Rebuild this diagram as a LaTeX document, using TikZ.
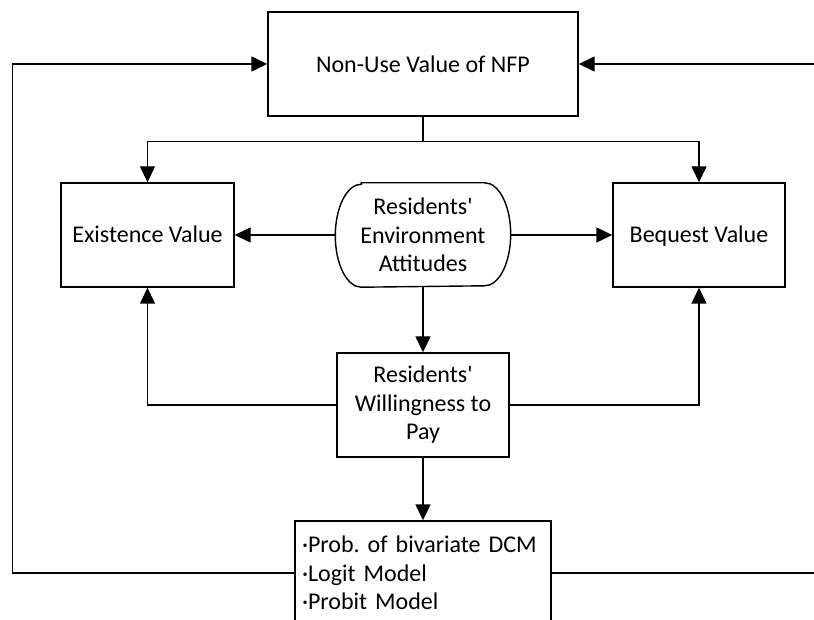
\documentclass[tikz,border=0pt]{standalone}
\usepackage{fontspec}
\setmainfont{Carlito}
\usetikzlibrary{arrows.meta}
\begin{document}
\begin{tikzpicture}[x=1pt,y=-1pt,
  box/.style={draw,line width=1.4pt,inner sep=0pt,align=center,font=\fontsize{24}{28.5}\selectfont\frenchspacing},
  conn/.style={line width=1.4pt},
  arr/.style={conn,-{Triangle[length=16pt,width=15pt]}}]
\useasboundingbox (0,0) rectangle (814,620);
\clip (0,0) rectangle (814,620);
\node[box,minimum width=310pt,minimum height=104pt] (top) at (423,64) {Non-Use Value of NFP};
\node[box,minimum width=173pt,minimum height=104pt,text height=16pt,text depth=0pt] (exist) at (147.5,235) {Existence Value};
\node[box,minimum width=172pt,minimum height=104pt,text height=16pt,text depth=0pt] (beq) at (699,235) {Bequest Value};
\node[box,draw=none,minimum width=174pt,minimum height=103pt] (att) at (423,235) {Residents\textquotesingle\\Environment\\Attitudes};
\draw[conn] ([xshift=26pt]att.north west) -- ([xshift=-26pt]att.north east)
  arc[start angle=90,end angle=-90,x radius=26pt,y radius=51.5pt]
  -- ([xshift=26pt]att.south west)
  arc[start angle=270,end angle=90,x radius=26pt,y radius=51.5pt] -- cycle;
\node[box,minimum width=172pt,minimum height=104pt] (wtp) at (423,405) {Residents\textquotesingle\\Willingness to\\Pay};
\node[box,minimum width=256pt,minimum height=104pt,text width=242pt,align=left] (model) at (423,573) {·Prob. of bivariate DCM\\·Logit Model\\·Probit Model};
\coordinate (lc) at (12.5,64);
\coordinate (rc) at (830,64);
\draw[arr] (top.south) -- ++(0,25) -| (exist.north);
\draw[arr] (top.south) -- ++(0,25) -| (beq.north);
\draw[arr] (att.west) -- (exist.east);
\draw[arr] (att.east) -- (beq.west);
\draw[arr] (att.south) -- (wtp.north);
\draw[arr] (wtp.west) -| (exist.south);
\draw[arr] (wtp.east) -| (beq.south);
\draw[arr] (wtp.south) -- (model.north);
\draw[arr] (model.west) -| (lc) -- (top.west);
\draw[arr] (model.east) -| (rc) -- (top.east);
\end{tikzpicture}
\end{document}
